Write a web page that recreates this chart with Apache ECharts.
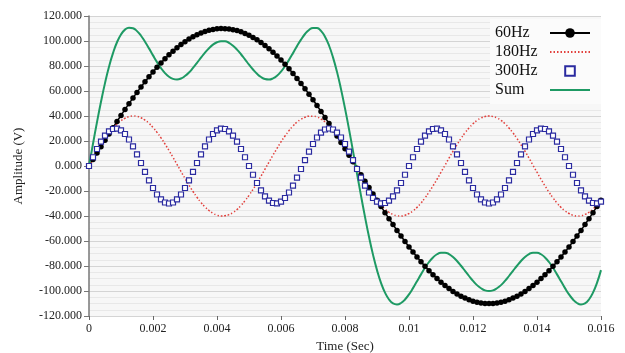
<!DOCTYPE html>
<html>
<head>
<meta charset="utf-8">
<script src="https://cdn.jsdelivr.net/npm/echarts@6/dist/echarts.min.js"></script>
<style>
  html, body { margin: 0; padding: 0; background: #fff; }
  #chart { width: 625px; height: 353px; }
</style>
</head>
<body>
<div id="chart"></div>
<script>
// sample times (s)
const times = [
  0, 0.000125, 0.00025, 0.000375, 0.0005, 0.000625, 0.00075, 0.000875,
  0.001, 0.001125, 0.00125, 0.001375, 0.0015, 0.001625, 0.00175, 0.001875,
  0.002, 0.002125, 0.00225, 0.002375, 0.0025, 0.002625, 0.00275, 0.002875,
  0.003, 0.003125, 0.00325, 0.003375, 0.0035, 0.003625, 0.00375, 0.003875,
  0.004, 0.004125, 0.00425, 0.004375, 0.0045, 0.004625, 0.00475, 0.004875,
  0.005, 0.005125, 0.00525, 0.005375, 0.0055, 0.005625, 0.00575, 0.005875,
  0.006, 0.006125, 0.00625, 0.006375, 0.0065, 0.006625, 0.00675, 0.006875,
  0.007, 0.007125, 0.00725, 0.007375, 0.0075, 0.007625, 0.00775, 0.007875,
  0.008, 0.008125, 0.00825, 0.008375, 0.0085, 0.008625, 0.00875, 0.008875,
  0.009, 0.009125, 0.00925, 0.009375, 0.0095, 0.009625, 0.00975, 0.009875,
  0.01, 0.010125, 0.01025, 0.010375, 0.0105, 0.010625, 0.01075, 0.010875,
  0.011, 0.011125, 0.01125, 0.011375, 0.0115, 0.011625, 0.01175, 0.011875,
  0.012, 0.012125, 0.01225, 0.012375, 0.0125, 0.012625, 0.01275, 0.012875,
  0.013, 0.013125, 0.01325, 0.013375, 0.0135, 0.013625, 0.01375, 0.013875,
  0.014, 0.014125, 0.01425, 0.014375, 0.0145, 0.014625, 0.01475, 0.014875,
  0.015, 0.015125, 0.01525, 0.015375, 0.0155, 0.015625, 0.01575, 0.015875,
  0.016
];

const hz60 = [
  0, 5.2, 10.4, 15.5, 20.6, 25.7, 30.7, 35.6, 40.5, 45.3,
  49.9, 54.5, 58.9, 63.3, 67.4, 71.4, 75.3, 79.0, 82.5, 85.8,
  89.0, 91.9, 94.7, 97.2, 99.5, 101.6, 103.5, 105.1, 106.5, 107.7,
  108.6, 109.3, 109.8, 110.0, 109.9, 109.7, 109.1, 108.4, 107.4, 106.1,
  104.6, 102.9, 101.0, 98.8, 96.4, 93.8, 91.0, 88.0, 84.8, 81.4,
  77.8, 74.0, 70.1, 66.0, 61.8, 57.5, 53.0, 48.4, 43.7, 38.9,
  34.0, 29.0, 24.0, 18.9, 13.8, 8.6, 3.5, -1.7, -6.9, -12.1,
  -17.2, -22.3, -27.4, -32.3, -37.3, -42.1, -46.8, -51.5, -56.0, -60.4,
  -64.7, -68.8, -72.7, -76.6, -80.2, -83.7, -86.9, -90.0, -92.9, -95.6,
  -98.0, -100.3, -102.3, -104.1, -105.6, -107.0, -108.1, -108.9, -109.5, -109.9,
  -110.0, -109.9, -109.5, -108.9, -108.1, -107.0, -105.6, -104.1, -102.3, -100.3,
  -98.0, -95.6, -92.9, -90.0, -86.9, -83.7, -80.2, -76.6, -72.7, -68.8,
  -64.7, -60.4, -56.0, -51.5, -46.8, -42.1, -37.3, -32.3, -27.4
];

const hz180 = [
  0, 5.6, 11.2, 16.5, 21.4, 26.0, 30.0, 33.4, 36.2, 38.2,
  39.5, 40.0, 39.7, 38.6, 36.7, 34.1, 30.8, 26.9, 22.5, 17.6,
  12.4, 6.9, 1.3, -4.4, -9.9, -15.3, -20.4, -25.0, -29.2, -32.7,
  -35.6, -37.8, -39.3, -40.0, -39.8, -38.9, -37.2, -34.8, -31.6, -27.8,
  -23.5, -18.7, -13.6, -8.1, -2.5, 3.1, 8.7, 14.1, 19.3, 24.0,
  28.3, 32.0, 35.1, 37.4, 39.0, 39.9, 39.9, 39.2, 37.6, 35.4,
  32.4, 28.7, 24.5, 19.8, 14.7, 9.3, 3.8, -1.9, -7.5, -13.0,
  -18.2, -23.0, -27.4, -31.2, -34.4, -37.0, -38.7, -39.8, -40.0, -39.4,
  -38.0, -35.9, -33.1, -29.6, -25.5, -20.9, -15.9, -10.6, -5.0, 0.6,
  6.3, 11.8, 17.0, 22.0, 26.5, 30.4, 33.8, 36.5, 38.4, 39.6,
  40.0, 39.6, 38.4, 36.5, 33.8, 30.4, 26.5, 22.0, 17.0, 11.8,
  6.3, 0.6, -5.0, -10.6, -15.9, -20.9, -25.5, -29.6, -33.1, -35.9,
  -38.0, -39.4, -40.0, -39.8, -38.7, -37.0, -34.4, -31.2, -27.4
];

const hz300 = [
  0, 7.0, 13.6, 19.5, 24.3, 27.7, 29.6, 29.9, 28.5, 25.6,
  21.2, 15.7, 9.3, 2.4, -4.7, -11.5, -17.6, -22.8, -26.7, -29.2,
  -30.0, -29.2, -26.7, -22.8, -17.6, -11.5, -4.7, 2.4, 9.3, 15.7,
  21.2, 25.6, 28.5, 29.9, 29.6, 27.7, 24.3, 19.5, 13.6, 7.0,
  0, -7.0, -13.6, -19.5, -24.3, -27.7, -29.6, -29.9, -28.5, -25.6,
  -21.2, -15.7, -9.3, -2.4, 4.7, 11.5, 17.6, 22.8, 26.7, 29.2,
  30.0, 29.2, 26.7, 22.8, 17.6, 11.5, 4.7, -2.4, -9.3, -15.7,
  -21.2, -25.6, -28.5, -29.9, -29.6, -27.7, -24.3, -19.5, -13.6, -7.0,
  0, 7.0, 13.6, 19.5, 24.3, 27.7, 29.6, 29.9, 28.5, 25.6,
  21.2, 15.7, 9.3, 2.4, -4.7, -11.5, -17.6, -22.8, -26.7, -29.2,
  -30.0, -29.2, -26.7, -22.8, -17.6, -11.5, -4.7, 2.4, 9.3, 15.7,
  21.2, 25.6, 28.5, 29.9, 29.6, 27.7, 24.3, 19.5, 13.6, 7.0,
  0, -7.0, -13.6, -19.5, -24.3, -27.7, -29.6, -29.9, -28.5
];

const sumWave = [
  0, 17.8, 35.1, 51.4, 66.3, 79.4, 90.3, 99.0, 105.2, 109.1,
  110.7, 110.2, 107.9, 104.2, 99.4, 94.1, 88.5, 83.1, 78.3, 74.3,
  71.4, 69.7, 69.2, 70.0, 72.0, 74.8, 78.5, 82.5, 86.7, 90.7,
  94.2, 97.1, 99.0, 99.9, 99.8, 98.5, 96.2, 93.1, 89.4, 85.3,
  81.1, 77.2, 73.8, 71.2, 69.6, 69.2, 70.1, 72.2, 75.5, 79.8,
  84.9, 90.3, 95.9, 101.1, 105.6, 108.8, 110.5, 110.4, 108.1, 103.4,
  96.4, 86.9, 75.3, 61.5, 46.1, 29.5, 11.9, -6.0, -23.7, -40.7,
  -56.6, -70.9, -83.3, -93.5, -101.3, -106.8, -109.9, -110.7, -109.6, -106.8,
  -102.7, -97.7, -92.2, -86.7, -81.4, -76.8, -73.2, -70.6, -69.4, -69.3,
  -70.5, -72.8, -76.0, -79.8, -83.9, -88.0, -91.9, -95.3, -97.8, -99.5,
  -100.0, -99.5, -97.8, -95.3, -91.9, -88.0, -83.9, -79.8, -76.0, -72.8,
  -70.5, -69.3, -69.4, -70.6, -73.2, -76.8, -81.4, -86.7, -92.2, -97.7,
  -102.7, -106.8, -109.6, -110.7, -109.9, -106.8, -101.3, -93.5, -83.3
];

const pairs = vals => times.map((t, i) => [t, vals[i]]);
const serif = 'Liberation Serif, Times New Roman, serif';

const chart = echarts.init(document.getElementById('chart'), null, { renderer: 'canvas' });

chart.setOption({
  animation: false,
  backgroundColor: '#fff',
  grid: {
    left: 89, right: 24, top: 16, bottom: 37,
    outerBoundsMode: 'none',
    show: true, backgroundColor: '#f7f7f7', borderWidth: 0
  },
  legend: {
    orient: 'vertical',
    left: 490, top: 19,
    align: 'right',
    padding: [5, 10, 5, 5],
    backgroundColor: '#fbfbfb',
    itemWidth: 40, itemHeight: 12, itemGap: 1,
    formatter: name => '{t|' + name + '}',
    textStyle: {
      fontFamily: serif, fontSize: 16, color: '#111',
      rich: { t: { width: 50, height: 18, lineHeight: 18, align: 'left', fontFamily: serif, fontSize: 16, color: '#111' } }
    },
    data: [
      { name: '60Hz' },
      { name: '180Hz', itemStyle: { opacity: 0 } },
      { name: '300Hz' },
      { name: 'Sum', itemStyle: { opacity: 0 } }
    ]
  },
  xAxis: {
    type: 'value',
    min: 0, max: 0.016, interval: 0.002,
    name: 'Time (Sec)',
    nameLocation: 'middle', nameGap: 17,
    nameTextStyle: { fontFamily: serif, fontSize: 13, color: '#222' },
    axisLine: { show: false, onZero: false },
    axisTick: { show: true, length: 4, lineStyle: { color: '#666' } },
    axisLabel: {
      fontFamily: serif, fontSize: 12, color: '#222', margin: 7,
      formatter: v => String(+v.toFixed(3))
    },
    splitLine: { show: false }
  },
  yAxis: {
    type: 'value',
    min: -120, max: 120, interval: 20,
    name: 'Amplitude (V)',
    nameLocation: 'middle', nameGap: 64,
    nameTextStyle: { fontFamily: serif, fontSize: 13, color: '#222' },
    axisLine: { show: true, lineStyle: { color: '#777', width: 1.5 } },
    axisTick: { show: true, length: 5, lineStyle: { color: '#777' } },
    axisLabel: {
      fontFamily: serif, fontSize: 12, color: '#222', margin: 7,
      formatter: v => v.toFixed(3)
    },
    splitLine: { show: true, lineStyle: { color: '#d4d4d4', width: 1 } },
    minorTick: { show: false, splitNumber: 4 },
    minorSplitLine: { show: true, lineStyle: { color: '#e8e8e8', width: 1 } }
  },
  series: [
    {
      name: '60Hz', type: 'line', data: pairs(hz60),
      showAllSymbol: true, symbol: 'circle', symbolSize: 5.5,
      itemStyle: { color: '#000' },
      lineStyle: { color: '#000', width: 1.5 }
    },
    {
      name: '180Hz', type: 'line', data: pairs(hz180),
      symbol: 'none', smooth: true,
      itemStyle: { color: '#e2403c' },
      lineStyle: { color: '#e2403c', width: 1.5, type: [1.5, 2] }
    },
    {
      name: '300Hz', type: 'line', data: pairs(hz300),
      showAllSymbol: true, symbol: 'rect', symbolSize: 5,
      itemStyle: { color: '#fff', borderColor: '#2b2ba0', borderWidth: 1.2 },
      lineStyle: { width: 0, opacity: 0 }
    },
    {
      name: 'Sum', type: 'line', data: pairs(sumWave),
      symbol: 'none', smooth: true,
      itemStyle: { color: '#1e9a64' },
      lineStyle: { color: '#1e9a64', width: 2 }
    }
  ]
});

window.onresize = function () {
  chart.resize();
};
</script>
</body>
</html>
